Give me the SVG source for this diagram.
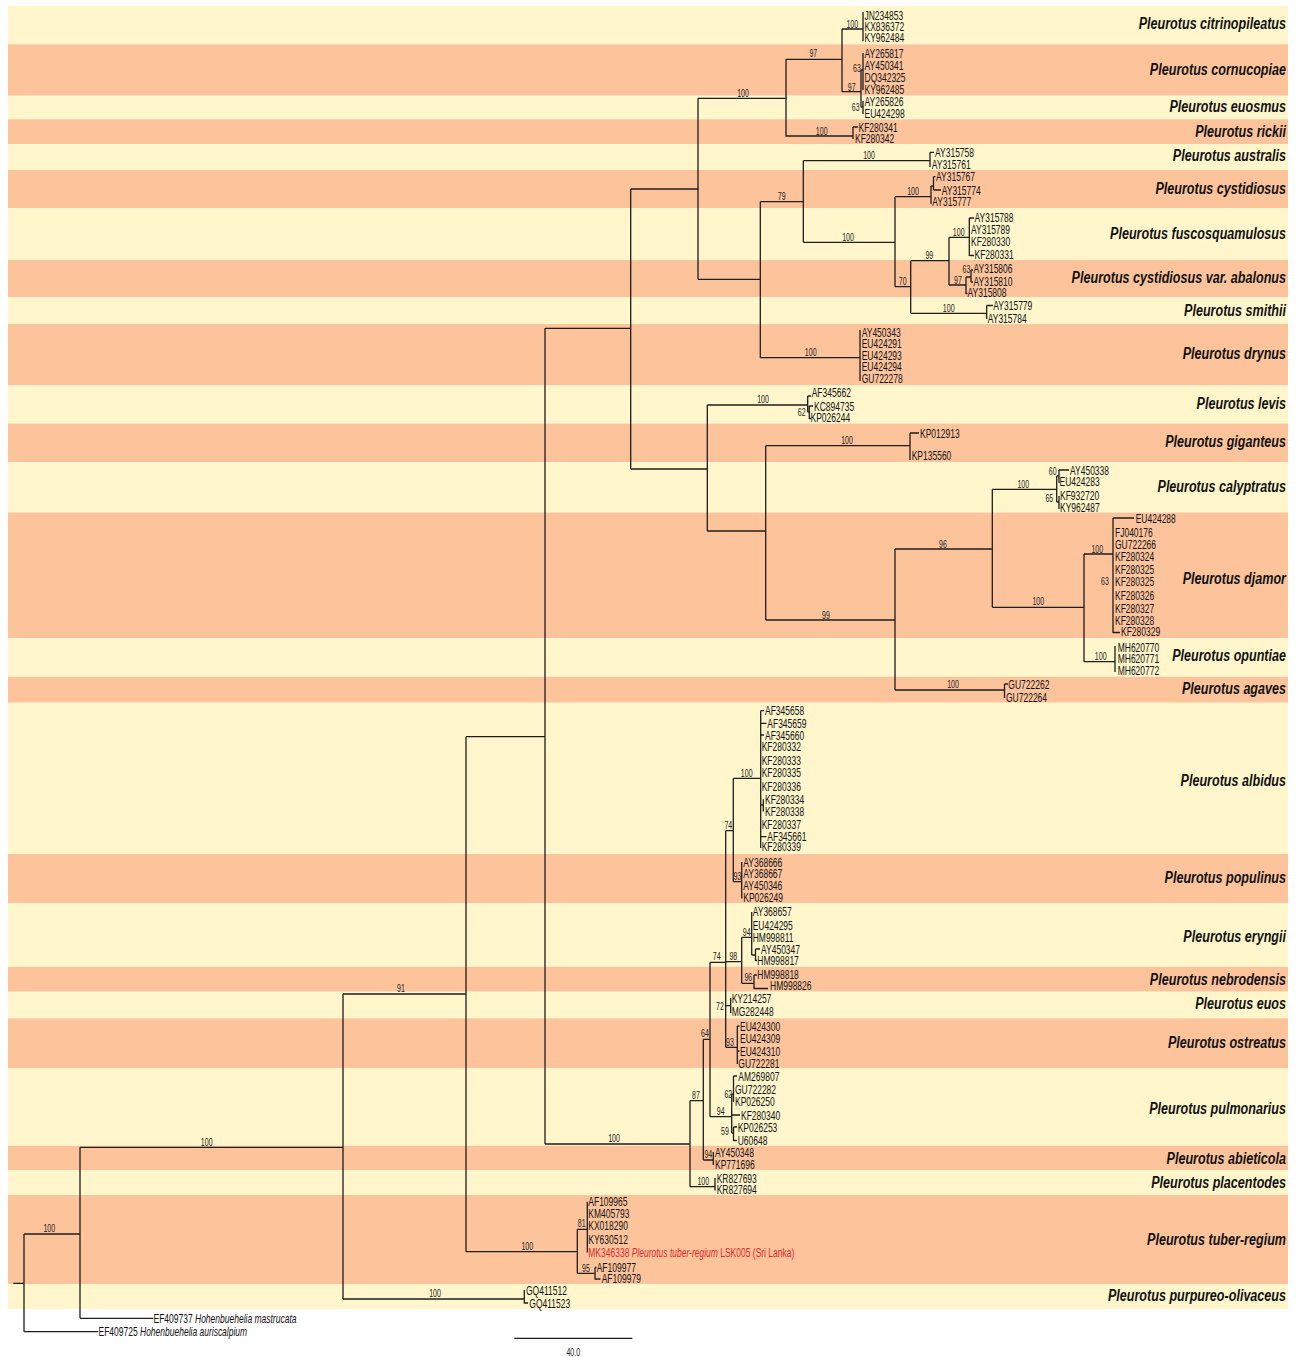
<svg xmlns="http://www.w3.org/2000/svg" width="1298" height="1357" viewBox="0 0 1298 1357">
<style>
.y{fill:#fff7cb}.o{fill:#fdc49c}
.c path{fill:none;stroke:#1e1e1e;stroke-width:1.3}
.t{font-family:"Liberation Sans",Arial,sans-serif;font-size:12.5px;fill:#111}
.s{font-family:"Liberation Sans",Arial,sans-serif;font-size:10.5px;fill:#222;text-anchor:middle}
.sp{font-family:"Liberation Sans",Arial,sans-serif;font-size:17px;font-weight:bold;font-style:italic;fill:#111;text-anchor:end}
.r{fill:#e3262c}
</style>
<rect width="1298" height="1357" fill="#fff"/>
<g id="bands">
<rect class="y" x="8" y="6" width="1280" height="38.3"/>
<rect class="o" x="8" y="44.3" width="1280" height="51.4"/>
<rect class="y" x="8" y="95.7" width="1280" height="23.6"/>
<rect class="o" x="8" y="119.3" width="1280" height="24.7"/>
<rect class="y" x="8" y="144" width="1280" height="26"/>
<rect class="o" x="8" y="170" width="1280" height="38.3"/>
<rect class="y" x="8" y="208.3" width="1280" height="51.7"/>
<rect class="o" x="8" y="260" width="1280" height="37.3"/>
<rect class="y" x="8" y="297.3" width="1280" height="26.7"/>
<rect class="o" x="8" y="324" width="1280" height="61.5"/>
<rect class="y" x="8" y="385.5" width="1280" height="38"/>
<rect class="o" x="8" y="423.5" width="1280" height="38.8"/>
<rect class="y" x="8" y="462.3" width="1280" height="50.2"/>
<rect class="o" x="8" y="512.5" width="1280" height="125.8"/>
<rect class="y" x="8" y="638.3" width="1280" height="38.4"/>
<rect class="o" x="8" y="676.7" width="1280" height="26"/>
<rect class="y" x="8" y="702.7" width="1280" height="151.3"/>
<rect class="o" x="8" y="854" width="1280" height="49.3"/>
<rect class="y" x="8" y="903.3" width="1280" height="63.4"/>
<rect class="o" x="8" y="966.7" width="1280" height="25"/>
<rect class="y" x="8" y="991.7" width="1280" height="26.6"/>
<rect class="o" x="8" y="1018.3" width="1280" height="50"/>
<rect class="y" x="8" y="1068.3" width="1280" height="77.4"/>
<rect class="o" x="8" y="1145.7" width="1280" height="24.3"/>
<rect class="y" x="8" y="1170" width="1280" height="25"/>
<rect class="o" x="8" y="1195" width="1280" height="89"/>
<rect class="y" x="8" y="1284" width="1280" height="25"/>
</g>
<g id="connectors" class="c">
<path d="M842,29H863M863,12V41M842,29V91.7M786,59.3H842M842,91.7H861M861,70V107M861,70H863M863,53V90M861,107H863M863,101V114"/>
<path d="M786,59.3V136H853M853,127V139M853,127H858"/>
<path d="M698,98.3H786.7M698,98.3V279.3"/>
<path d="M698,279.3H760.3M760.3,201.7V357.7M760.3,201.7H803.3"/>
<path d="M803.3,160.7V242.3M803.3,160.7H930M930,152.3V167M930,152.3H934"/>
<path d="M803.3,242.3H895M895,196.7V286.7"/>
<path d="M895,196.7H931M931,186V204M931,186H933.5M933.5,176.7V190M933.5,176.7H935.5M933.5,190H941"/>
<path d="M895,286.7H910.7M910.7,260.7V313.3M910.7,260.7H949M949,237.3V285"/>
<path d="M949,237.3H969.3M969.3,218V256M969.3,218H974M969.3,255.5H974"/>
<path d="M949,285H966M966,277V294M966,277H971M971,270V282M971,270H973M971,282H973M966,293.5H967.5"/>
<path d="M910.7,313.3H986.7M986.7,305.5V319M986.7,305.5H993"/>
<path d="M760.3,357.7H860M860,330V381"/>
<path d="M630.7,189H698.3M630.7,189V469M545,328.3H630.7M630.7,469H707.3M707.3,405V531"/>
<path d="M707.3,405H807.7M807.7,396V412M807.7,396H811M807.7,412H809.3M809.3,406V419M809.3,406H813M809.3,418.5H811"/>
<path d="M707.3,531H765.7M765.7,445.7V620M765.7,445.7H910M910,433V460M910,433H919"/>
<path d="M765.7,620H895M895,549V690M895,549H992.3M992.3,489.3V607.3"/>
<path d="M992.3,489.3H1056.7M1056.7,476V502M1056.7,476H1059M1059,470V483M1059,470H1069M1056.7,502H1059M1059,496V509"/>
<path d="M992.3,607.3H1084M1084,554V661.7M1084,554H1113M1113,518V633M1113,518H1134M1113,632.5H1120"/>
<path d="M1084,661.7H1115M1115,646V672"/>
<path d="M895,690H1004.5M1004.5,684V698M1004.5,684H1008"/>
<path d="M545,328.3V1144M466,736.7H545M466,736.7V1251.7M343,994H466M343,994V1299"/>
<path d="M545,1144H690M690,1100.7V1186.7M690,1100.7H703.3M703.3,1039.3V1160"/>
<path d="M690,1186.7H715M715,1178V1190.5"/>
<path d="M703.3,1160H713.3M713.3,1152V1165"/>
<path d="M703.3,1039.3H710M710,962.3V1116.7"/>
<path d="M710,1116.7H731.7M731.7,1094V1133M731.7,1094H733.5M733.5,1076V1102M733.5,1076H737M731.7,1115H740M731.7,1133H733.5M733.5,1127V1141M733.5,1127H737M733.5,1140.5H737"/>
<path d="M710,962.3H725.7M725.7,830.7V1047.3M725.7,830.7H733.3M733.3,778.3V881.7"/>
<path d="M733.3,778.3H760.7M760.7,710.7V848M760.7,710.7H764M760.7,723.3H766.5M760.7,735H764M760.7,805H763.3M763.3,799.3V811.5M760.7,836.7H766.5"/>
<path d="M733.3,881.7H741.7M741.7,862V898.5"/>
<path d="M725.7,961.7H741.7M741.7,937.3V983.3M741.7,937.3H751.7M751.7,912V955M751.7,955H755.5M755.5,949V961M755.5,949H760M755.5,960.5H757"/>
<path d="M741.7,983.3H754M754,975V989M754,975H757M754,988.5H768"/>
<path d="M725.7,1005.7H730.7M730.7,998V1013"/>
<path d="M725.7,1047.3H737.3M737.3,1026V1064M737.3,1026H739.5M737.3,1051H739.5"/>
<path d="M466,1251.7H577.3M577.3,1229.3V1273.3M577.3,1229.3H587.3M587.3,1201.7V1252.5"/>
<path d="M577.3,1273.3H595M595,1267.5V1279.5M595,1267.5H596.5M595,1279H600.5"/>
<path d="M343,1299H524.3M524.3,1290V1303.5M524.3,1303H528"/>
<path d="M80,1147.3H343M80,1147.3V1318.3M80,1318.3H153.3M24,1234H80M24,1234V1331.7M24,1331.7H98.3M13.3,1283.3H24"/>
<path d="M514.3,1338.3H632.3"/>
<g id="support">
<text class="s" transform="translate(852.3 27.5) scale(.67 1)">100</text>
<text class="s" transform="translate(813.3 57.3) scale(.67 1)">97</text>
<text class="s" transform="translate(851.7 90.5) scale(.67 1)">97</text>
<text class="s" transform="translate(857 72) scale(.67 1)">63</text>
<text class="s" transform="translate(855.7 110.5) scale(.67 1)">63</text>
<text class="s" transform="translate(821.7 134.5) scale(.67 1)">100</text>
<text class="s" transform="translate(743 96.5) scale(.67 1)">100</text>
<text class="s" transform="translate(781.7 200) scale(.67 1)">79</text>
<text class="s" transform="translate(869 159) scale(.67 1)">100</text>
<text class="s" transform="translate(848 240.5) scale(.67 1)">100</text>
<text class="s" transform="translate(913 194.5) scale(.67 1)">100</text>
<text class="s" transform="translate(902.7 285) scale(.67 1)">70</text>
<text class="s" transform="translate(929.3 259) scale(.67 1)">99</text>
<text class="s" transform="translate(958.7 235.5) scale(.67 1)">100</text>
<text class="s" transform="translate(958 283.5) scale(.67 1)">97</text>
<text class="s" transform="translate(966.5 272.5) scale(.67 1)">63</text>
<text class="s" transform="translate(948.7 311.8) scale(.67 1)">100</text>
<text class="s" transform="translate(810.7 356) scale(.67 1)">100</text>
<text class="s" transform="translate(763 403) scale(.67 1)">100</text>
<text class="s" transform="translate(801.7 416) scale(.67 1)">62</text>
<text class="s" transform="translate(847 443.8) scale(.67 1)">100</text>
<text class="s" transform="translate(826 618.5) scale(.67 1)">99</text>
<text class="s" transform="translate(943 547.5) scale(.67 1)">96</text>
<text class="s" transform="translate(1023.3 487.8) scale(.67 1)">100</text>
<text class="s" transform="translate(1052.7 475) scale(.67 1)">60</text>
<text class="s" transform="translate(1049.3 501.7) scale(.67 1)">65</text>
<text class="s" transform="translate(1038.3 605.3) scale(.67 1)">100</text>
<text class="s" transform="translate(1097.3 552.5) scale(.67 1)">100</text>
<text class="s" transform="translate(1105 585) scale(.67 1)">63</text>
<text class="s" transform="translate(1100.7 660) scale(.67 1)">100</text>
<text class="s" transform="translate(953 688.3) scale(.67 1)">100</text>
<text class="s" transform="translate(401 992.3) scale(.67 1)">91</text>
<text class="s" transform="translate(614 1142.3) scale(.67 1)">100</text>
<text class="s" transform="translate(696 1098.7) scale(.67 1)">87</text>
<text class="s" transform="translate(703.3 1185) scale(.67 1)">100</text>
<text class="s" transform="translate(708.3 1158.3) scale(.67 1)">94</text>
<text class="s" transform="translate(705 1036.5) scale(.67 1)">64</text>
<text class="s" transform="translate(720.7 1114.7) scale(.67 1)">94</text>
<text class="s" transform="translate(728.3 1097.5) scale(.67 1)">62</text>
<text class="s" transform="translate(725 1135) scale(.67 1)">59</text>
<text class="s" transform="translate(716.7 960) scale(.67 1)">74</text>
<text class="s" transform="translate(728.3 828.5) scale(.67 1)">74</text>
<text class="s" transform="translate(746.7 776.5) scale(.67 1)">100</text>
<text class="s" transform="translate(737.3 880) scale(.67 1)">93</text>
<text class="s" transform="translate(733.3 959.5) scale(.67 1)">98</text>
<text class="s" transform="translate(746.7 936) scale(.67 1)">94</text>
<text class="s" transform="translate(748.3 981) scale(.67 1)">96</text>
<text class="s" transform="translate(720 1010) scale(.67 1)">72</text>
<text class="s" transform="translate(730 1046) scale(.67 1)">93</text>
<text class="s" transform="translate(527.3 1249.8) scale(.67 1)">100</text>
<text class="s" transform="translate(581.7 1226.5) scale(.67 1)">81</text>
<text class="s" transform="translate(586 1271.8) scale(.67 1)">95</text>
<text class="s" transform="translate(435 1297.3) scale(.67 1)">100</text>
<text class="s" transform="translate(206.7 1145.8) scale(.67 1)">100</text>
<text class="s" transform="translate(49.3 1232) scale(.67 1)">100</text>
<text class="s" transform="translate(573.3 1356) scale(.67 1)">40.0</text>
</g>
</g>
<g id="citrinopileatus">
<text class="sp" transform="translate(1286 29) scale(.74 1)">Pleurotus citrinopileatus</text>
<text class="t" transform="translate(864.5 19.5) scale(.68 1)">JN234853</text>
<text class="t" transform="translate(864.5 30.5) scale(.68 1)">KX836372</text>
<text class="t" transform="translate(864.5 41.8) scale(.68 1)">KY962484</text>
</g>
<g id="cornucopiae">
<text class="sp" transform="translate(1286 75) scale(.74 1)">Pleurotus cornucopiae</text>
<text class="t" transform="translate(864.5 57.8) scale(.68 1)">AY265817</text>
<text class="t" transform="translate(864.5 70.2) scale(.68 1)">AY450341</text>
<text class="t" transform="translate(864.5 82.2) scale(.68 1)">DQ342325</text>
<text class="t" transform="translate(864.5 93.8) scale(.68 1)">KY962485</text>
</g>
<g id="euosmus">
<text class="sp" transform="translate(1286 112) scale(.74 1)">Pleurotus euosmus</text>
<text class="t" transform="translate(864.5 105.5) scale(.68 1)">AY265826</text>
<text class="t" transform="translate(864.5 117.8) scale(.68 1)">EU424298</text>
</g>
<g id="rickii">
<text class="sp" transform="translate(1286 137) scale(.74 1)">Pleurotus rickii</text>
<text class="t" transform="translate(858.5 131.5) scale(.68 1)">KF280341</text>
<text class="t" transform="translate(855 142.8) scale(.68 1)">KF280342</text>
</g>
<g id="australis">
<text class="sp" transform="translate(1286 161) scale(.74 1)">Pleurotus australis</text>
<text class="t" transform="translate(935 156.8) scale(.68 1)">AY315758</text>
<text class="t" transform="translate(931.7 168.5) scale(.68 1)">AY315761</text>
</g>
<g id="cystidiosus">
<text class="sp" transform="translate(1286 194) scale(.74 1)">Pleurotus cystidiosus</text>
<text class="t" transform="translate(936 181.2) scale(.68 1)">AY315767</text>
<text class="t" transform="translate(941.7 194.5) scale(.68 1)">AY315774</text>
<text class="t" transform="translate(932.3 206.2) scale(.68 1)">AY315777</text>
</g>
<g id="fuscosquamulosus">
<text class="sp" transform="translate(1286 239) scale(.74 1)">Pleurotus fuscosquamulosus</text>
<text class="t" transform="translate(974.5 221.8) scale(.68 1)">AY315788</text>
<text class="t" transform="translate(971 233.8) scale(.68 1)">AY315789</text>
<text class="t" transform="translate(971 246.2) scale(.68 1)">KF280330</text>
<text class="t" transform="translate(974.5 258.8) scale(.68 1)">KF280331</text>
</g>
<g id="abalonus">
<text class="sp" transform="translate(1286 283) scale(.74 1)">Pleurotus cystidiosus var. abalonus</text>
<text class="t" transform="translate(973.5 272.8) scale(.68 1)">AY315806</text>
<text class="t" transform="translate(973.5 285.5) scale(.68 1)">AY315810</text>
<text class="t" transform="translate(967.5 297.2) scale(.68 1)">AY315808</text>
</g>
<g id="smithii">
<text class="sp" transform="translate(1286 316) scale(.74 1)">Pleurotus smithii</text>
<text class="t" transform="translate(993.3 309.5) scale(.68 1)">AY315779</text>
<text class="t" transform="translate(987.7 322.5) scale(.68 1)">AY315784</text>
</g>
<g id="drynus">
<text class="sp" transform="translate(1286 359) scale(.74 1)">Pleurotus drynus</text>
<text class="t" transform="translate(861.7 336.5) scale(.68 1)">AY450343</text>
<text class="t" transform="translate(861.7 348.2) scale(.68 1)">EU424291</text>
<text class="t" transform="translate(861.7 359.5) scale(.68 1)">EU424293</text>
<text class="t" transform="translate(861.7 370.5) scale(.68 1)">EU424294</text>
<text class="t" transform="translate(861.7 383.2) scale(.68 1)">GU722278</text>
</g>
<g id="levis">
<text class="sp" transform="translate(1286 409) scale(.74 1)">Pleurotus levis</text>
<text class="t" transform="translate(811.7 397.2) scale(.68 1)">AF345662</text>
<text class="t" transform="translate(814 410.5) scale(.68 1)">KC894735</text>
<text class="t" transform="translate(810.5 422.2) scale(.68 1)">KP026244</text>
</g>
<g id="giganteus">
<text class="sp" transform="translate(1286 447) scale(.74 1)">Pleurotus giganteus</text>
<text class="t" transform="translate(920 437.8) scale(.68 1)">KP012913</text>
<text class="t" transform="translate(911.7 459.5) scale(.68 1)">KP135560</text>
</g>
<g id="calyptratus">
<text class="sp" transform="translate(1286 492) scale(.74 1)">Pleurotus calyptratus</text>
<text class="t" transform="translate(1070 474.5) scale(.68 1)">AY450338</text>
<text class="t" transform="translate(1059.5 486.2) scale(.68 1)">EU424283</text>
<text class="t" transform="translate(1060 500.2) scale(.68 1)">KF932720</text>
<text class="t" transform="translate(1060 511.8) scale(.68 1)">KY962487</text>
</g>
<g id="djamor">
<text class="sp" transform="translate(1286 584) scale(.74 1)">Pleurotus djamor</text>
<text class="t" transform="translate(1135.7 522.8) scale(.68 1)">EU424288</text>
<text class="t" transform="translate(1115 536.8) scale(.68 1)">FJ040176</text>
<text class="t" transform="translate(1115 548.8) scale(.68 1)">GU722266</text>
<text class="t" transform="translate(1115 561.2) scale(.68 1)">KF280324</text>
<text class="t" transform="translate(1115 573.5) scale(.68 1)">KF280325</text>
<text class="t" transform="translate(1115 586.2) scale(.68 1)">KF280325</text>
<text class="t" transform="translate(1115 599.5) scale(.68 1)">KF280326</text>
<text class="t" transform="translate(1115 612.8) scale(.68 1)">KF280327</text>
<text class="t" transform="translate(1115 625.2) scale(.68 1)">KF280328</text>
<text class="t" transform="translate(1121 636.2) scale(.68 1)">KF280329</text>
</g>
<g id="opuntiae">
<text class="sp" transform="translate(1286 661) scale(.74 1)">Pleurotus opuntiae</text>
<text class="t" transform="translate(1117.7 652.2) scale(.68 1)">MH620770</text>
<text class="t" transform="translate(1117.7 662.8) scale(.68 1)">MH620771</text>
<text class="t" transform="translate(1117.7 675.2) scale(.68 1)">MH620772</text>
</g>
<g id="agaves">
<text class="sp" transform="translate(1286 694) scale(.74 1)">Pleurotus agaves</text>
<text class="t" transform="translate(1008.3 688.5) scale(.68 1)">GU722262</text>
<text class="t" transform="translate(1006 701.5) scale(.68 1)">GU722264</text>
</g>
<g id="albidus">
<text class="sp" transform="translate(1286 786) scale(.74 1)">Pleurotus albidus</text>
<text class="t" transform="translate(765 715.2) scale(.68 1)">AF345658</text>
<text class="t" transform="translate(767.3 727.8) scale(.68 1)">AF345659</text>
<text class="t" transform="translate(765 739.5) scale(.68 1)">AF345660</text>
<text class="t" transform="translate(761.7 750.5) scale(.68 1)">KF280332</text>
<text class="t" transform="translate(761.7 764.5) scale(.68 1)">KF280333</text>
<text class="t" transform="translate(761.7 777.2) scale(.68 1)">KF280335</text>
<text class="t" transform="translate(761.7 790.5) scale(.68 1)">KF280336</text>
<text class="t" transform="translate(765 803.8) scale(.68 1)">KF280334</text>
<text class="t" transform="translate(765 815.5) scale(.68 1)">KF280338</text>
<text class="t" transform="translate(761.7 828.8) scale(.68 1)">KF280337</text>
<text class="t" transform="translate(767.3 841.2) scale(.68 1)">AF345661</text>
<text class="t" transform="translate(761.7 851.2) scale(.68 1)">KF280339</text>
</g>
<g id="populinus">
<text class="sp" transform="translate(1286 883) scale(.74 1)">Pleurotus populinus</text>
<text class="t" transform="translate(743.3 866.8) scale(.68 1)">AY368666</text>
<text class="t" transform="translate(743.3 877.8) scale(.68 1)">AY368667</text>
<text class="t" transform="translate(743.3 889.5) scale(.68 1)">AY450346</text>
<text class="t" transform="translate(743.3 902.2) scale(.68 1)">KP026249</text>
</g>
<g id="eryngii">
<text class="sp" transform="translate(1286 942) scale(.74 1)">Pleurotus eryngii</text>
<text class="t" transform="translate(752.7 916.2) scale(.68 1)">AY368657</text>
<text class="t" transform="translate(752.7 929.5) scale(.68 1)">EU424295</text>
<text class="t" transform="translate(752.7 941.8) scale(.68 1)">HM998811</text>
<text class="t" transform="translate(761 953.5) scale(.68 1)">AY450347</text>
<text class="t" transform="translate(757.3 964.5) scale(.68 1)">HM998817</text>
</g>
<g id="nebrodensis">
<text class="sp" transform="translate(1286 985) scale(.74 1)">Pleurotus nebrodensis</text>
<text class="t" transform="translate(757.3 978.8) scale(.68 1)">HM998818</text>
<text class="t" transform="translate(770 989.5) scale(.68 1)">HM998826</text>
</g>
<g id="euos">
<text class="sp" transform="translate(1286 1009) scale(.74 1)">Pleurotus euos</text>
<text class="t" transform="translate(731.7 1002.8) scale(.68 1)">KY214257</text>
<text class="t" transform="translate(731.7 1016.2) scale(.68 1)">MG282448</text>
</g>
<g id="ostreatus">
<text class="sp" transform="translate(1286 1048) scale(.74 1)">Pleurotus ostreatus</text>
<text class="t" transform="translate(740 1030.5) scale(.68 1)">EU424300</text>
<text class="t" transform="translate(740 1042.8) scale(.68 1)">EU424309</text>
<text class="t" transform="translate(740 1055.5) scale(.68 1)">EU424310</text>
<text class="t" transform="translate(738.3 1067.8) scale(.68 1)">GU722281</text>
</g>
<g id="pulmonarius">
<text class="sp" transform="translate(1286 1114) scale(.74 1)">Pleurotus pulmonarius</text>
<text class="t" transform="translate(738.3 1080.5) scale(.68 1)">AM269807</text>
<text class="t" transform="translate(735 1093.5) scale(.68 1)">GU722282</text>
<text class="t" transform="translate(735 1105.5) scale(.68 1)">KP026250</text>
<text class="t" transform="translate(741 1119.5) scale(.68 1)">KF280340</text>
<text class="t" transform="translate(737.7 1131.8) scale(.68 1)">KP026253</text>
<text class="t" transform="translate(737.7 1144.5) scale(.68 1)">U60648</text>
</g>
<g id="abieticola">
<text class="sp" transform="translate(1286 1164) scale(.74 1)">Pleurotus abieticola</text>
<text class="t" transform="translate(715 1156.8) scale(.68 1)">AY450348</text>
<text class="t" transform="translate(715 1168.5) scale(.68 1)">KP771696</text>
</g>
<g id="placentodes">
<text class="sp" transform="translate(1286 1188) scale(.74 1)">Pleurotus placentodes</text>
<text class="t" transform="translate(716.7 1182.8) scale(.68 1)">KR827693</text>
<text class="t" transform="translate(716.7 1193.8) scale(.68 1)">KR827694</text>
</g>
<g id="tuber-regium">
<text class="sp" transform="translate(1286 1245) scale(.74 1)">Pleurotus tuber-regium</text>
<text class="t" transform="translate(588.3 1206.2) scale(.68 1)">AF109965</text>
<text class="t" transform="translate(588.3 1217.8) scale(.68 1)">KM405793</text>
<text class="t" transform="translate(588.3 1230.2) scale(.68 1)">KX018290</text>
<text class="t" transform="translate(588.3 1243.8) scale(.68 1)">KY630512</text>
<text class="t r" transform="translate(588.3 1256.8) scale(.68 1)">MK346338 <tspan font-style="italic">Pleurotus tuber-regium</tspan> LSK005 (Sri Lanka)</text>
<text class="t" transform="translate(596.7 1271.5) scale(.68 1)">AF109977</text>
<text class="t" transform="translate(601.7 1282.8) scale(.68 1)">AF109979</text>
</g>
<g id="purpureo-olivaceus">
<text class="sp" transform="translate(1286 1301) scale(.74 1)">Pleurotus purpureo-olivaceus</text>
<text class="t" transform="translate(526 1294.5) scale(.68 1)">GQ411512</text>
<text class="t" transform="translate(529.3 1307.5) scale(.68 1)">GQ411523</text>
</g>
<g id="outgroups">
<text class="t" transform="translate(153.5 1322.8) scale(.68 1)">EF409737 <tspan font-style="italic">Hohenbuehelia mastrucata</tspan></text>
<text class="t" transform="translate(98.5 1336.2) scale(.68 1)">EF409725 <tspan font-style="italic">Hohenbuehelia auriscalpium</tspan></text>
</g>
</svg>
